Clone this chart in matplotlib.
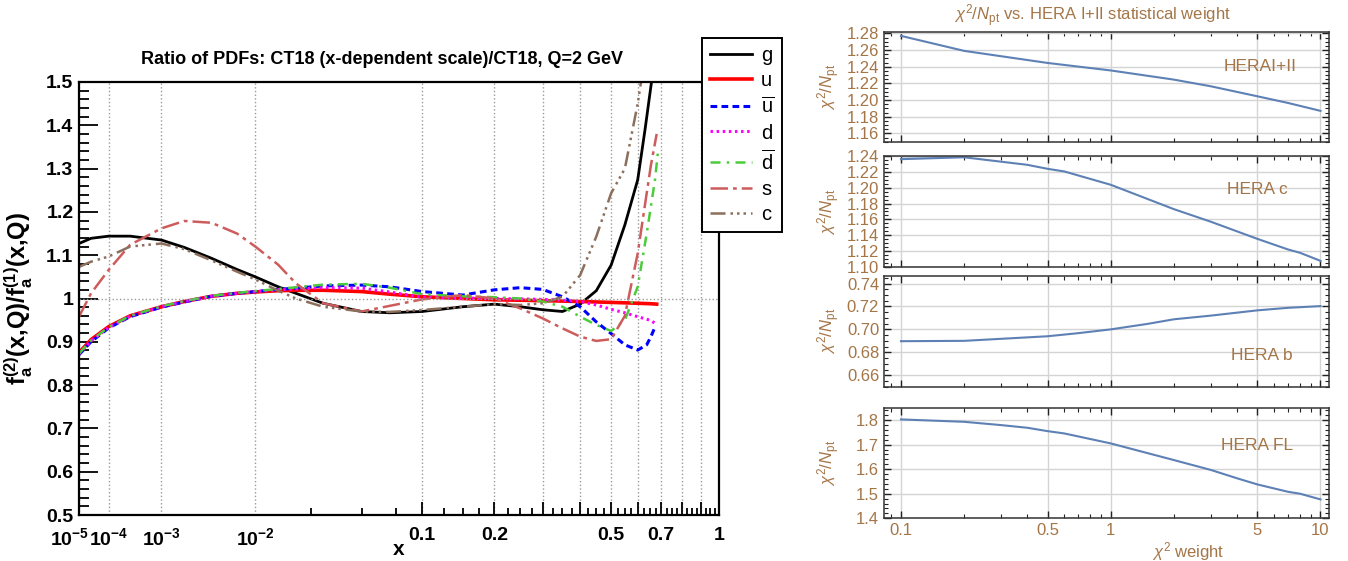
import numpy as np
import matplotlib
matplotlib.use('Agg')
import matplotlib.pyplot as plt
import matplotlib.transforms as mtransforms
from matplotlib.ticker import FixedLocator, MultipleLocator, FormatStrFormatter, FuncFormatter

plt.rcParams['font.family'] = ['Liberation Sans', 'DejaVu Sans']
plt.rcParams['mathtext.fontset'] = 'custom'
plt.rcParams['mathtext.rm'] = 'Liberation Sans'
plt.rcParams['mathtext.it'] = 'Liberation Sans:italic'
plt.rcParams['mathtext.bf'] = 'Liberation Sans:bold'

# ---- left panel: PDF ratios ----
x = [1e-5, 3e-5, 1e-4, 3e-4, 1e-3, 2e-3, 4e-3, 0.007, 0.01, 0.015, 0.02, 0.03, 0.05, 0.07,
     0.1, 0.15, 0.2, 0.25, 0.3, 0.35, 0.4, 0.45, 0.5, 0.55, 0.6]

x_g = x + [0.63, 0.66]
g = [1.127, 1.139, 1.144, 1.144, 1.135, 1.118, 1.093, 1.067, 1.050, 1.027, 1.012, 0.989, 0.970, 0.967,
     0.970, 0.981, 0.987, 0.981, 0.974, 0.970, 0.987, 1.018, 1.077, 1.170, 1.274, 1.39, 1.51]

x_u = x + [0.65, 0.68]
u = [0.875, 0.905, 0.935, 0.960, 0.981, 0.993, 1.005, 1.012, 1.015, 1.018, 1.019, 1.019, 1.016, 1.010,
     1.004, 1.000, 0.997, 0.996, 0.995, 0.994, 0.993, 0.992, 0.991, 0.990, 0.989, 0.988, 0.987]

x_ubar = x + [0.637, 0.655, 0.675]
ubar = [0.870, 0.900, 0.932, 0.958, 0.980, 0.992, 1.005, 1.012, 1.016, 1.021, 1.024, 1.029, 1.031, 1.027,
        1.016, 1.008, 1.020, 1.025, 1.021, 1.004, 0.981, 0.946, 0.919, 0.893, 0.881, 0.893, 0.912, 0.937]

x_d = x + [0.65, 0.68]
d = [0.872, 0.902, 0.933, 0.959, 0.981, 0.993, 1.005, 1.012, 1.016, 1.020, 1.022, 1.025, 1.024, 1.015,
     1.003, 1.001, 1.000, 0.999, 0.998, 0.996, 0.993, 0.985, 0.975, 0.967, 0.958, 0.950, 0.941]

x_dbar = x + [0.637, 0.6726, 0.685]
dbar = [0.873, 0.903, 0.934, 0.960, 0.982, 0.994, 1.006, 1.013, 1.017, 1.022, 1.026, 1.032, 1.034, 1.025,
        1.010, 1.005, 1.003, 1.000, 0.993, 0.981, 0.958, 0.939, 0.925, 0.950, 1.027, 1.150, 1.274, 1.335]

x_s = x + [0.637, 0.655, 0.68]
s = [0.958, 1.012, 1.066, 1.124, 1.162, 1.179, 1.175, 1.150, 1.120, 1.078, 1.035, 0.989, 0.970, 0.983,
     0.998, 1.008, 1.000, 0.977, 0.954, 0.931, 0.912, 0.902, 0.906, 0.960, 1.104, 1.243, 1.308, 1.38]

x_c = x + [0.63]
c = [1.073, 1.085, 1.097, 1.120, 1.127, 1.114, 1.088, 1.062, 1.044, 1.018, 1.000, 0.981, 0.970, 0.969,
     0.9735, 0.981, 0.987, 0.985, 0.989, 1.004, 1.054, 1.143, 1.243, 1.300, 1.450, 1.56]

x_ticks = [1e-5, 1e-4, 1e-3, 1e-2, 0.1, 0.2, 0.3, 0.4, 0.5, 0.6, 0.7, 0.8, 0.9, 1.0]
x_ticklabels = [r'$\mathbf{10^{-5}}$', r'$\mathbf{10^{-4}}$', r'$\mathbf{10^{-3}}$', r'$\mathbf{10^{-2}}$',
                '0.1', '0.2', '', '', '0.5', '', '0.7', '', '', '1']

# ---- right panels: chi2/Npt vs weight ----
w1 = [0.1, 0.2, 0.5, 1, 2, 3, 5, 7, 10]
hera12 = [1.277, 1.259, 1.2445, 1.2355, 1.2245, 1.2165, 1.2045, 1.1965, 1.187]

w2 = [0.1, 0.2, 0.4, 0.5, 0.6, 1, 2, 3, 5, 7, 8, 10]
hera_c = [1.2366, 1.239, 1.2294, 1.2243, 1.221, 1.204, 1.173, 1.157, 1.1352, 1.1217, 1.1174, 1.1072]

w3 = [0.1, 0.2, 0.5, 0.7, 1, 1.5, 2, 3, 5, 7, 10]
hera_b = [0.6897, 0.6900, 0.6940, 0.6967, 0.7000, 0.7048, 0.7088, 0.7120, 0.7166, 0.7188, 0.7203]

w4 = [0.1, 0.2, 0.3, 0.4, 0.5, 0.6, 1, 2, 3, 4, 5, 7, 8, 10]
hera_fl = [1.8027, 1.793, 1.7796, 1.7688, 1.755, 1.7457, 1.705, 1.6372, 1.597, 1.563, 1.538, 1.508, 1.500, 1.477]

W, H = 1348, 561
def box(l, t, r, b):
    return [l / W, 1 - b / H, (r - l) / W, (b - t) / H]

fig = plt.figure(figsize=(W / 100, H / 100), dpi=100)

ax = fig.add_axes(box(79, 82, 719, 515))
ax.set_xscale('function', functions=(lambda v: np.power(np.clip(v, 0, None), 0.25),
                                     lambda v: np.power(v, 4)))

l_g, = ax.plot(x_g, g, color='black', lw=2)
l_u, = ax.plot(x_u, u, color='red', lw=2.6)
l_ub, = ax.plot(x_ubar, ubar, color='blue', lw=2.2, dashes=(2.2, 1.4))
l_d, = ax.plot(x_d, d, color='magenta', lw=2.2, dashes=(0.8, 1.2))
l_db, = ax.plot(x_dbar, dbar, color='#4ccc3c', lw=1.8, dashes=(4, 2.5, 1, 2.5))
l_s, = ax.plot(x_s, s, color='#cd5c5c', lw=1.8, dashes=(7, 2, 1.5, 2))
l_c, = ax.plot(x_c, c, color='#8c6e5c', lw=1.8, dashes=(6, 2, 1, 1.6, 1, 1.6, 1, 2))

ax.axhline(1.0, color='#9a9a9a', ls=':', lw=1)
ax.set_xlim(1e-5, 1)
ax.set_ylim(0.5, 1.5)

ax.set_xticks(x_ticks)
ax.set_xticklabels(x_ticklabels)
ax.xaxis.set_minor_locator(FixedLocator([0.025 * k for k in range(1, 40) if k % 4]))
for t in ax.xaxis.get_major_ticks()[:4]:
    t.tick1line.set_visible(False)
ax.yaxis.set_major_locator(MultipleLocator(0.1))
ax.yaxis.set_minor_locator(MultipleLocator(0.02))
ax.yaxis.set_major_formatter(FuncFormatter(lambda v, p: '%g' % round(v, 2)))
ax.grid(axis='x', which='major', color='#9a9a9a', ls=':', lw=1)

ax.tick_params(axis='y', which='major', direction='in', length=14, width=1.3, pad=4)
ax.tick_params(axis='y', which='minor', direction='in', length=7, width=1.3)
ax.tick_params(axis='x', which='major', direction='in', length=9.5, width=1.3, pad=9)
ax.tick_params(axis='x', which='minor', direction='in', length=5, width=1.3)
for lab in ax.get_xticklabels() + ax.get_yticklabels():
    lab.set_fontweight('bold')
    lab.set_fontsize(14)
# first decade label sits left of the frame edge, as in the original
shift = mtransforms.ScaledTranslation(-0.09, 0, fig.dpi_scale_trans)
first = ax.get_xticklabels()[0]
first.set_transform(first.get_transform() + shift)
for sp in ax.spines.values():
    sp.set_linewidth(1.6)

ax.set_xlabel('x', fontweight='bold', fontsize=15)
ax.xaxis.label.set_va('center')
ax.xaxis.set_label_coords(0.5, -0.079)
ax.set_ylabel(r'$\mathbf{f_a^{(2)}(x{,}Q)/f_a^{(1)}(x{,}Q)}$', fontsize=17)
ax.yaxis.set_label_coords(-0.068, 0.5)
fig.text(382 / W, 1 - 60 / H, 'Ratio of PDFs: CT18 (x-dependent scale)/CT18, Q=2 GeV',
         ha='center', va='center', fontsize=13, fontweight='bold')

leg = fig.legend([l_g, l_u, l_ub, l_d, l_db, l_s, l_c],
                 ['g', 'u', r'$\overline{\mathrm{u}}$', 'd', r'$\overline{\mathrm{d}}$', 's', 'c'],
                 loc='upper left', bbox_to_anchor=(702 / W, 1 - 38 / H), borderaxespad=0,
                 frameon=True, fancybox=False, edgecolor='black', framealpha=1,
                 fontsize=14.5, handlelength=2.1, handletextpad=0.45, labelspacing=0.32,
                 borderpad=0.38)
leg.get_frame().set_linewidth(1.4)

# ---- right panels ----
brown = '#a47547'
blue = '#5e81b5'
panels = [
    (31.7, 141.7, w1, hera12, (1.15, 1.282), 0.02, 0.005, '%.2f', 'HERAI+II', 0.845, 0.68),
    (155.7, 267.3, w2, hera_c, (1.099, 1.241), 0.02, 0.005, '%.2f', 'HERA c', 0.84, 0.693),
    (275.5, 386.7, w3, hera_b, (0.65, 0.747), 0.02, 0.005, '%.2f', 'HERA b', 0.85, 0.285),
    (408.3, 518.3, w4, hera_fl, (1.4, 1.848), 0.1, 0.02, '%.1f', 'HERA FL', 0.838, 0.666),
]
w_major = [0.1, 0.5, 1, 5, 10]
w_minor = [0.09, 0.2, 0.3, 0.4, 0.6, 0.7, 0.8, 0.9, 2, 3, 4, 6, 7, 8, 9]
for i, (top, bot, wx, vals, ylim, maj, mnr, fmt, name, tx, ty) in enumerate(panels):
    a = fig.add_axes(box(884, top, 1329, bot))
    a.plot(wx, vals, color=blue, lw=1.5)
    if i == 1:
        a.fill_between(wx[:2], vals[:2], ylim[1], color=blue, alpha=0.3, lw=0)
    a.set_xscale('log')
    a.set_xlim(0.083, 10.98)
    a.set_ylim(*ylim)
    a.xaxis.set_major_locator(FixedLocator(w_major))
    a.xaxis.set_minor_locator(FixedLocator(w_minor))
    a.yaxis.set_major_locator(MultipleLocator(maj))
    a.yaxis.set_minor_locator(MultipleLocator(mnr))
    a.yaxis.set_major_formatter(FormatStrFormatter(fmt))
    if i == 3:
        a.xaxis.set_major_formatter(FuncFormatter(lambda v, p: '%g' % v))
        a.set_xlabel(r'$\chi^2$ weight', color=brown, fontsize=12)
        a.xaxis.set_label_coords(0.683, -0.2)
    else:
        a.set_xticklabels([])
    a.xaxis.set_minor_formatter(FuncFormatter(lambda v, p: ''))
    a.grid(True, which='major', color='#d4d4d4', lw=1)
    a.set_axisbelow(True)
    a.tick_params(which='both', direction='in', top=True, right=True, labelcolor=brown,
                  labelsize=12, color='#222222')
    a.tick_params(which='major', length=5, width=1)
    a.tick_params(which='minor', length=3, width=0.8)
    for sp in a.spines.values():
        sp.set_linewidth(1.1)
        sp.set_color('#333333')
    a.set_ylabel(r'$\chi^2/N_{\rm pt}$', color=brown, fontsize=12)
    a.yaxis.set_label_coords(-0.095, 0.5)
    a.text(tx, ty, name, transform=a.transAxes, ha='center', va='center', color=brown, fontsize=12.5)

fig.text(1092 / W, 1 - 16 / H, r'$\chi^2/N_{\rm pt}$ vs. HERA I+II statistical weight',
         ha='center', va='center', color=brown, fontsize=12)

fig.savefig('out.png', dpi=100)
